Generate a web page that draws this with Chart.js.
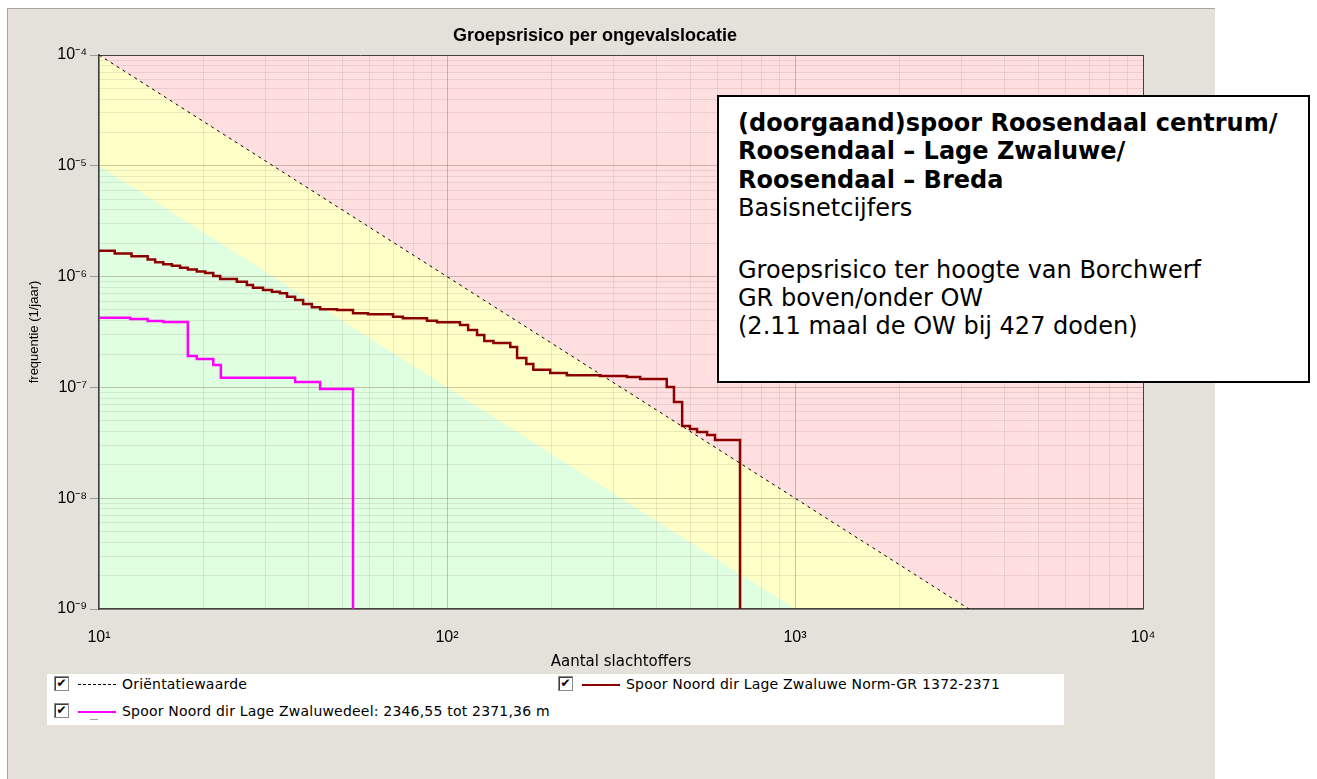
<!DOCTYPE html>
<html>
<head>
<meta charset="utf-8">
<script src="https://cdn.jsdelivr.net/npm/chart.js@4.4.1/dist/chart.umd.min.js"></script>
<style>
  body { margin:0; width:1317px; height:779px; overflow:hidden; position:relative; background:#fff; font-family:"Liberation Sans", Arial, sans-serif; }
  #panel { position:absolute; left:7px; top:8px; width:1208px; height:771px; background:#e4e1da; box-sizing:border-box; border-left:1px solid #a9a59d; border-top:1px solid #a9a59d; }
  #c { position:absolute; left:7px; top:8px; }
  #title { position:absolute; left:0; width:1190px; top:25px; text-align:center; font:bold 18px "Liberation Sans", Arial, sans-serif; color:#000; }
  #note { position:absolute; left:717px; top:95px; width:593px; height:288px; box-sizing:border-box; border:2px solid #000; background:#fff;
          padding:12px 0 0 19px; font:24px "DejaVu Sans", Verdana, sans-serif; line-height:28.3px; color:#000; white-space:nowrap; }
  #note .gap { height:33.5px; }
  #legend { position:absolute; left:47px; top:674px; width:1017px; height:51px; background:#fff; }
  .item { position:absolute; height:16px; font:14px "DejaVu Sans", Verdana, sans-serif; line-height:16px; white-space:nowrap; color:#000; }
  .cb { position:absolute; left:0; top:0; width:13px; height:13px; border:1px solid #8a8a8a; box-shadow:inset 1px 1px 0 #404040; background:#fff;
        font:bold 12px "DejaVu Sans", sans-serif; line-height:13px; text-align:center; }
  .sample { position:absolute; left:24px; top:8px; width:38px; }
  .txt { position:absolute; left:68px; top:0; letter-spacing:0.2px; }
  .mark { position:absolute; left:36px; top:16px; width:8px; height:1px; background:#a0a0a0; }
</style>
</head>
<body>
<div id="panel"></div>
<canvas id="c" width="1208" height="771"></canvas>
<div id="title">Groepsrisico per ongevalslocatie</div>
<div id="legend"></div>
<div id="note"><b>(doorgaand)spoor Roosendaal centrum/<br>Roosendaal – Lage Zwaluwe/<br>Roosendaal – Breda</b><br>Basisnetcijfers<div class="gap"></div>Groepsrisico ter hoogte van Borchwerf<br>GR boven/onder OW<br>(2.11 maal de OW bij 427 doden)</div>
<script>
// --- Axis ranges and ticks ---
const xDecades = [10, 100, 1000, 10000];
const xTickLabels = ['10¹', '10²', '10³', '10⁴'];
const yDecades = [1e-9, 1e-8, 1e-7, 1e-6, 1e-5, 1e-4];
const yTickLabels = ['10⁻⁹', '10⁻⁸', '10⁻⁷', '10⁻⁶', '10⁻⁵', '10⁻⁴'];
const minorSteps = [1, 2, 3, 4, 5, 6, 7, 8, 9];

// --- Orientation value (OW) and zone boundaries ---
const owN = [10, 3162];
const owF = [1e-4, 1e-9];
const greenN = [10, 1000];
const greenF = [1e-5, 1e-9];
const topN = [10, 10000];
const topF = [1e-4, 1e-4];

// --- FN curves ---
const redN = [10, 11.1, 12.4, 13.8, 14.5, 15.3, 16.2, 17.1, 18.0, 19.1,
              20.2, 21.3, 22.3, 24.9, 26.6, 27.7, 29.6, 31.4, 33.1, 34.7,
              36.6, 38.6, 40.9, 43.2, 48.3, 53.7, 59.3, 70.0, 74.7, 87.6,
              93.6, 109, 115, 122, 128, 136, 152, 159, 169, 177,
              198, 221, 275, 329, 359, 428, 449, 474, 499, 523,
              559, 589, 695];
const redF = [1.71e-6, 1.62e-6, 1.53e-6, 1.43e-6, 1.35e-6, 1.29e-6, 1.25e-6, 1.20e-6, 1.16e-6, 1.11e-6,
              1.08e-6, 1.01e-6, 9.51e-7, 9.0e-7, 8.40e-7, 7.94e-7, 7.57e-7, 7.31e-7, 7.07e-7, 6.59e-7,
              6.15e-7, 5.66e-7, 5.28e-7, 5.07e-7, 5.00e-7, 4.67e-7, 4.57e-7, 4.35e-7, 4.21e-7, 4.00e-7,
              3.87e-7, 3.66e-7, 3.30e-7, 2.97e-7, 2.62e-7, 2.52e-7, 2.32e-7, 1.84e-7, 1.63e-7, 1.44e-7,
              1.35e-7, 1.29e-7, 1.27e-7, 1.24e-7, 1.19e-7, 1.01e-7, 7.38e-8, 4.49e-8, 4.21e-8, 3.96e-8,
              3.72e-8, 3.35e-8, 1e-9];
const magN = [10, 12.3, 13.8, 15.3, 18.0, 19.1, 21.3, 22.4, 36.6, 43.2, 53.7];
const magF = [4.26e-7, 4.14e-7, 3.97e-7, 3.89e-7, 1.92e-7, 1.80e-7, 1.59e-7, 1.22e-7, 1.12e-7, 9.68e-8, 1e-9];

const seriesNames = ['Oriëntatiewaarde',
                     'Spoor Noord dir Lage Zwaluwe Norm-GR 1372-2371',
                     'Spoor Noord dir Lage Zwaluwedeel: 2346,55 tot 2371,36 m'];

// --- Helpers ---
const pts = (xs, ys) => xs.map((x, i) => ({x, y: ys[i]}));
const isDecade = v => Math.abs(Math.log10(v) - Math.round(Math.log10(v))) < 1e-6;
const gridValues = decades => {
  const out = [];
  decades.slice(0, -1).forEach(d => minorSteps.forEach(m => out.push(d * m)));
  out.push(decades[decades.length - 1]);
  return out;
};
const labelFor = (decades, labels) => v => {
  const i = decades.findIndex(d => Math.abs(Math.log10(d) - Math.log10(v)) < 1e-6);
  return i >= 0 ? labels[i] : '';
};
const gridColor = max => ctx => {
  const v = ctx.tick.value;
  if (Math.abs(Math.log10(v) - Math.log10(max)) < 1e-6) return '#404040';
  return isDecade(v) ? 'rgba(110,80,60,0.33)' : 'rgba(120,110,110,0.15)';
};
const tickFont = { size: 16, family: '"Liberation Sans", Arial' };

new Chart(document.getElementById('c'), {
  type: 'line',
  data: {
    datasets: [
      { label: seriesNames[2], data: pts(magN, magF), borderColor: '#ff00ff', borderWidth: 2.5, stepped: true, fill: false },
      { label: seriesNames[1], data: pts(redN, redF), borderColor: '#8b0000', borderWidth: 2.5, stepped: true, fill: false },
      { label: seriesNames[0], data: pts(owN, owF), borderColor: '#000', borderWidth: 1, borderDash: [3, 4], fill: false },
      { label: 'green', data: pts(greenN, greenF), borderColor: 'transparent', borderWidth: 0, fill: 'start', backgroundColor: '#e0ffe0' },
      { label: 'yellow', data: pts(owN, owF), borderColor: 'transparent', borderWidth: 0, fill: 'start', backgroundColor: '#ffffc8' },
      { label: 'red', data: pts(topN, topF), borderColor: 'transparent', borderWidth: 0, fill: 'start', backgroundColor: '#ffdfe0' }
    ]
  },
  options: {
    responsive: false,
    animation: false,
    layout: { padding: { top: 47, right: 72, bottom: 95, left: 0 } },
    elements: { point: { radius: 0 }, line: { tension: 0, borderCapStyle: 'butt' } },
    plugins: {
      legend: { display: false },
      tooltip: { enabled: false },
      filler: { drawTime: 'beforeDraw' }
    },
    scales: {
      x: {
        type: 'logarithmic', min: 10, max: 10000,
        afterBuildTicks: s => { s.ticks = gridValues(xDecades).map(v => ({value: v})); },
        afterFit: s => { s.height = 75; },
        grid: { color: gridColor(10000), drawTicks: false },
        border: { color: '#404040', width: 1.5 },
        ticks: { autoSkip: false, maxRotation: 0, padding: 19, color: '#000',
                 font: tickFont, callback: labelFor(xDecades, xTickLabels) },
        title: { display: true, text: 'Aantal slachtoffers', color: '#000',
                 font: { size: 15, family: '"DejaVu Sans", Verdana' }, padding: { bottom: 13 } }
      },
      y: {
        type: 'logarithmic', min: 1e-9, max: 1e-4,
        afterBuildTicks: s => { s.ticks = gridValues(yDecades).map(v => ({value: v})); },
        afterFit: s => { s.width = 92; },
        grid: { color: gridColor(1e-4), tickLength: 9,
                tickColor: ctx => isDecade(ctx.tick.value) ? '#9a9a9a' : 'transparent' },
        border: { color: '#404040', width: 1.5 },
        ticks: { autoSkip: false, padding: 3, color: '#000',
                 font: tickFont, callback: labelFor(yDecades, yTickLabels) },
        title: { display: true, text: 'frequentie (1/jaar)', color: '#000',
                 font: { size: 13, family: '"Liberation Sans", Arial' }, padding: { top: 20 } }
      }
    }
  }
});

// --- HTML legend with checkboxes ---
const legendItems = [
  { name: seriesNames[0], left: 7, top: 2, line: '1px dashed #000', mark: false },
  { name: seriesNames[1], left: 511, top: 2, line: '2px solid #8b0000', mark: false },
  { name: seriesNames[2], left: 7, top: 29, line: '2px solid #ff00ff', mark: true }
];
const legend = document.getElementById('legend');
legendItems.forEach(it => {
  const d = document.createElement('div');
  d.className = 'item';
  d.style.left = it.left + 'px';
  d.style.top = it.top + 'px';
  d.innerHTML = '<span class="cb">✔</span><span class="sample" style="border-top:' + it.line + '"></span>' +
                (it.mark ? '<span class="mark"></span>' : '') + '<span class="txt">' + it.name + '</span>';
  legend.appendChild(d);
});
</script>
</body>
</html>
